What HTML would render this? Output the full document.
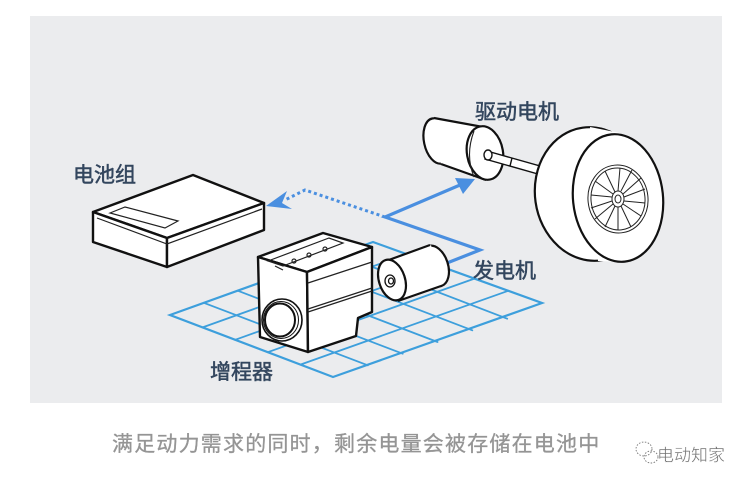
<!DOCTYPE html>
<html><head><meta charset="utf-8">
<style>
html,body{margin:0;padding:0;background:#fff;}
svg{display:block;}
text{font-family:"Liberation Sans","Noto Sans CJK SC",sans-serif;}
</style></head>
<body>
<svg width="749" height="486" viewBox="0 0 749 486" xmlns="http://www.w3.org/2000/svg">
<rect x="0" y="0" width="749" height="486" fill="#ffffff"/>
<rect x="30" y="16" width="692" height="387" fill="#ebecee"/>

<!-- grid -->
<g stroke="#3d9fdc" stroke-width="1.8" fill="none" stroke-linecap="round">
  <polygon points="170,315 373,242 542,303 333,377" stroke-width="2.2"/>
  <line x1="202.6" y1="327.4" x2="406.8" y2="254.2"/>
  <line x1="235.2" y1="339.8" x2="440.6" y2="266.4"/>
  <line x1="267.8" y1="352.2" x2="474.4" y2="278.6"/>
  <line x1="300.4" y1="364.6" x2="508.2" y2="290.8"/>
  <line x1="203.8" y1="302.8" x2="367.8" y2="365.3"/>
  <line x1="237.7" y1="290.7" x2="402.7" y2="353.7"/>
  <line x1="271.5" y1="278.5" x2="437.5" y2="342.0"/>
  <line x1="305.3" y1="266.3" x2="472.3" y2="330.3"/>
  <line x1="339.2" y1="254.2" x2="507.2" y2="318.7"/>
</g>

<!-- battery box -->
<g stroke="#111" stroke-width="2.4" stroke-linejoin="round" fill="#fff">
  <polygon points="93,212 193,175 264,203 167,238"/>
  <polygon points="93,212 167,238 167,267 93,242"/>
  <polygon points="167,238 264,203 264,230 167,267"/>
</g>
<g stroke="#222" stroke-width="1.2" fill="none">
  <polyline points="97,218 167,244 262,209"/>
  <polygon points="110,213 125,207 178,221 165,228"/>
</g>

<!-- dashed arrow -->
<polyline points="385,217 305,190 285,200" fill="none" stroke="#4a8fe0" stroke-width="3" stroke-dasharray="3,3"/>
<polygon points="266,206 287,191 282,203 292,209" fill="#4a8fe0"/>

<!-- solid arrow -->
<polyline points="447,263 480,250 385,217 460,185" fill="none" stroke="#4a8fe0" stroke-width="3.2" stroke-linejoin="miter"/>
<polygon points="475,179 455,178 463,194" fill="#4a8fe0"/>

<!-- range extender -->
<g stroke="#111" stroke-width="2.4" stroke-linejoin="round" fill="#fff">
  <polygon points="258,257 323,233 372,247 307,272"/>
  <polygon points="258,257 307,272 308,352 260,337"/>
  <polygon points="307,272 372,247 372,312 358,318 356,336 308,352"/>
</g>
<g stroke="#222" stroke-width="1.2" fill="none">
  <polygon points="268,261 329,238 343,243 283,266"/>
  <line x1="275" y1="266" x2="283" y2="270"/>
  <line x1="308" y1="283" x2="372" y2="262"/>
  <line x1="308" y1="309" x2="372" y2="288"/>
  <line x1="308" y1="312" x2="372" y2="291"/>
  <circle cx="294" cy="261" r="2"/>
  <circle cx="309" cy="255" r="2"/>
  <circle cx="325" cy="249" r="2"/>
</g>
<g fill="#fff" stroke="#111">
  <ellipse cx="282" cy="320" rx="20" ry="21" stroke-width="1.6"/>
  <ellipse cx="281" cy="320" rx="17.5" ry="18.5" stroke-width="1"/>
  <ellipse cx="280" cy="320" rx="15" ry="16.5" stroke-width="2"/>
</g>

<!-- generator -->
<g stroke="#111" stroke-width="2.2" fill="#fff" stroke-linejoin="round">
  <ellipse cx="435" cy="266" rx="13" ry="21" transform="rotate(-18 435 266)"/>
  <polygon points="386,262 431,245 441,287 398,301" stroke="none"/>
  <line x1="386" y1="261" x2="430" y2="245"/>
  <line x1="398" y1="301" x2="441" y2="286"/>
  <ellipse cx="392" cy="280" rx="13" ry="21" transform="rotate(-18 392 280)"/>
</g>
<g stroke="#111" stroke-width="1.3" fill="none">
  <ellipse cx="390" cy="281" rx="5" ry="6"/>
  <ellipse cx="391" cy="281" rx="2.5" ry="3"/>
</g>

<!-- drive motor -->
<g stroke="#111" stroke-width="2.2" fill="#fff" stroke-linejoin="round">
  <ellipse cx="437" cy="141" rx="13" ry="23" transform="rotate(-12 437 141)"/>
  <polygon points="434,118 485,126 488,180 441,164" stroke="none"/>
  <line x1="434" y1="118" x2="483" y2="127"/>
  <line x1="441" y1="164" x2="486" y2="180"/>
  <ellipse cx="485" cy="153" rx="18" ry="27" transform="rotate(-10 485 153)"/>
</g>
<g stroke="#222" stroke-width="1.1" fill="none">
  <path d="M474,131 Q465,155 474,177"/>
</g>
<!-- shaft -->
<g stroke="#111" stroke-width="1.4" fill="#fff">
  <polygon points="487,151 540,166 538,174 485,159"/>
  <line x1="512" y1="158" x2="510" y2="166"/>
  <ellipse cx="488" cy="155" rx="4" ry="5"/>
</g>

<!-- wheel -->
<g stroke="#111" stroke-width="2.2" fill="#fff">
  <ellipse cx="592" cy="194" rx="57" ry="67" transform="rotate(-8 592 194)"/>
  <polygon points="590,127 620,133 622,262 598,261" stroke="none"/>
  <ellipse cx="618" cy="198" rx="45" ry="64" transform="rotate(-6 618 198)"/>
</g>
<g stroke="#222" stroke-width="1" fill="none">
  <ellipse cx="618" cy="199" rx="30" ry="34" transform="rotate(-6 618 199)"/>
  <ellipse cx="618" cy="199" rx="27" ry="31" transform="rotate(-6 618 199)"/>
  <ellipse cx="618" cy="199" rx="6" ry="8"/>
  <ellipse cx="618" cy="199" rx="3" ry="4"/>
  <g>
    <line x1="618" y1="191" x2="620" y2="168"/>
    <line x1="621" y1="191" x2="632" y2="170"/>
    <line x1="623" y1="194" x2="641" y2="178"/>
    <line x1="624" y1="197" x2="645" y2="189"/>
    <line x1="624" y1="201" x2="645" y2="203"/>
    <line x1="623" y1="204" x2="641" y2="216"/>
    <line x1="621" y1="206" x2="631" y2="227"/>
    <line x1="618" y1="207" x2="618" y2="230"/>
    <line x1="615" y1="206" x2="605" y2="227"/>
    <line x1="613" y1="204" x2="595" y2="219"/>
    <line x1="612" y1="201" x2="591" y2="208"/>
    <line x1="612" y1="197" x2="591" y2="195"/>
    <line x1="613" y1="194" x2="595" y2="181"/>
    <line x1="615" y1="192" x2="605" y2="171"/>
  </g>
</g>

<!-- labels -->
<g fill="#33465e" font-size="21" stroke="#33465e" stroke-width="0.5">
  <text x="73" y="182">电池组</text>
  <text x="475" y="119">驱动电机</text>
  <text x="473" y="278">发电机</text>
  <text x="210" y="379">增程器</text>
</g>

<!-- caption -->
<text x="112" y="451" font-size="21" letter-spacing="1.2" fill="#959595" stroke="#959595" stroke-width="0.3">满足动力需求的同时，剩余电量会被存储在电池中</text>

<!-- watermark -->
<g fill="none" stroke="#777" stroke-width="0.9" stroke-dasharray="1.5,1.5">
  <ellipse cx="644" cy="449" rx="8" ry="7"/>
  <ellipse cx="651" cy="457" rx="7" ry="6"/>
</g>
<text x="657" y="461" font-size="17" fill="#6e6e6e" stroke="#fff" stroke-width="0.4">电动知家</text>
</svg>
</body></html>
